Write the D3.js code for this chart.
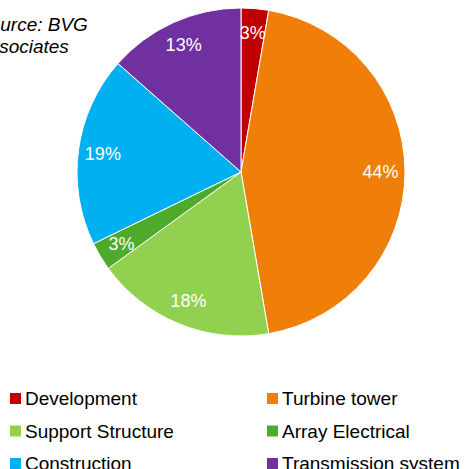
<!DOCTYPE html>
<html><head><meta charset="utf-8">
<script src="https://cdn.jsdelivr.net/npm/d3@7"></script>
<style>html,body{margin:0;padding:0;background:#fff;overflow:hidden}</style>
</head><body>
<svg id="chart" width="468" height="469"></svg>
<script>
const categories = ["Development","Turbine tower","Support Structure","Array Electrical","Construction","Transmission system"];
const values = [2.7, 44.6, 17.7, 2.8, 18.7, 13.5];
const labels = ["3%","44%","18%","3%","19%","13%"];
const colors = ["#C00000","#F07F0A","#92D050","#4EAA2A","#00B0F0","#7030A0"];
const sourceLines = ["Source: BVG","Associates"];

const svg = d3.select("#chart");
const cx = 241, cy = 172, r = 164;
const font = "'Liberation Sans', Arial, sans-serif";

const pie = d3.pie().sort(null).value(d => d)(values);
const arc = d3.arc().innerRadius(0).outerRadius(r);
const labelArc = d3.arc().innerRadius(r * 0.85).outerRadius(r * 0.85);

const g = svg.append("g").attr("transform", `translate(${cx},${cy})`);
g.selectAll("path").data(pie).join("path")
  .attr("d", arc)
  .attr("fill", (d, i) => colors[i])
  .attr("stroke", "#fff").attr("stroke-width", 1);

g.selectAll("text").data(pie).join("text")
  .attr("transform", d => `translate(${labelArc.centroid(d)})`)
  .attr("text-anchor", "middle").attr("dy", "0.35em")
  .attr("fill", "#fff").attr("font-family", font).attr("font-size", 18)
  .text((d, i) => labels[i]);

// source note
svg.append("text").attr("font-family", font).attr("font-size", 19).attr("font-style", "italic")
  .attr("fill", "#000")
  .selectAll("tspan").data(sourceLines).join("tspan")
  .attr("x", -23).attr("y", (d, i) => 31 + i * 22).text(d => d);

// legend
const col = d3.scaleOrdinal().domain([0, 1]).range([10, 267]);
const row = d3.scaleLinear().domain([0, 2]).range([398.5, 463.5]);
const leg = svg.append("g").selectAll("g").data(categories).join("g")
  .attr("transform", (d, i) => `translate(${col(i % 2)},${row(Math.floor(i / 2))})`);
leg.append("rect").attr("x", 0).attr("y", -5.5).attr("width", 11).attr("height", 11)
  .attr("fill", (d, i) => colors[i]);
leg.append("text").attr("x", 15).attr("y", 0).attr("dy", "0.36em")
  .attr("font-family", font).attr("font-size", 19).attr("fill", "#000")
  .text(d => d);
</script>
</body></html>
